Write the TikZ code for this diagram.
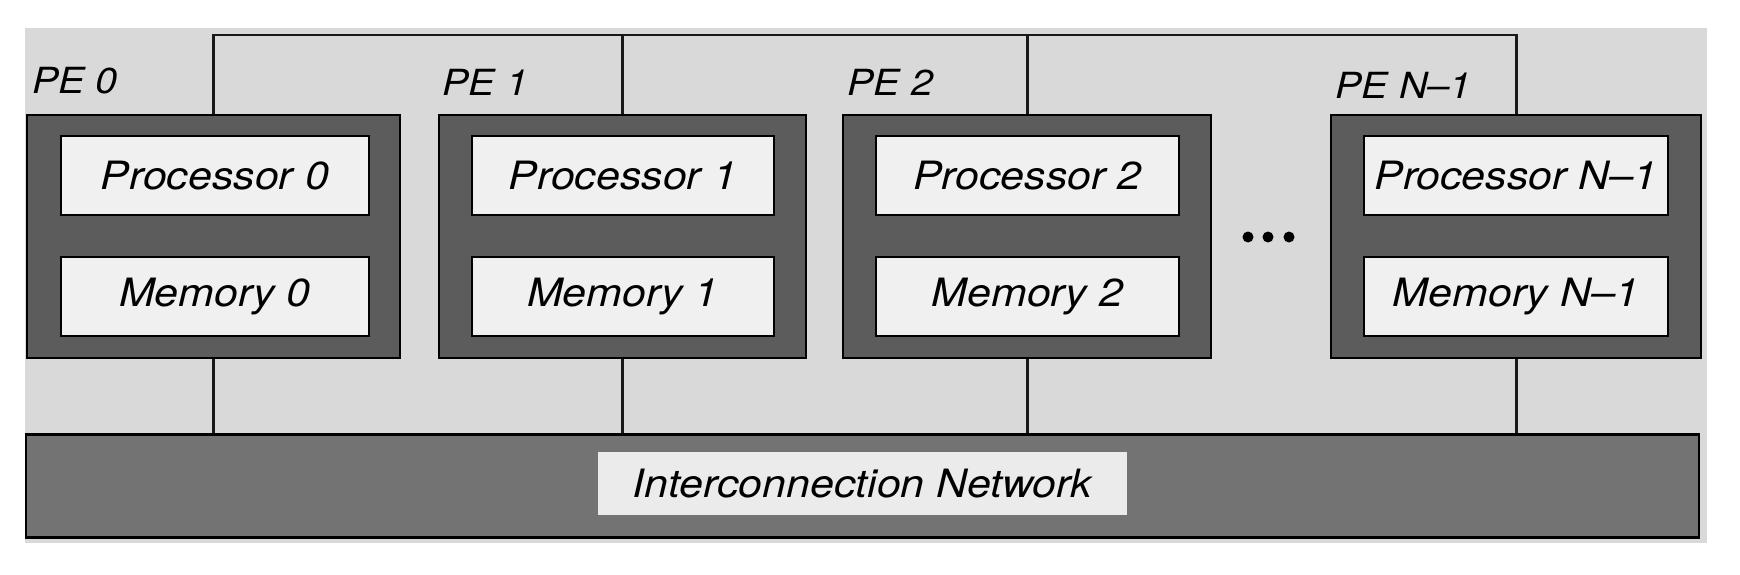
\documentclass[tikz,border=0pt]{standalone}
\usepackage{fontspec}
\setmainfont{TeX Gyre Heros}
\newfontfamily\widefont[FakeStretch=1.1,Ligatures=TeX]{TeX Gyre Heros}
\begin{document}
\begin{tikzpicture}[x=1pt,y=-1pt,
  bgfill/.style={fill=black!15},
  peframe/.style={draw=black,line width=2.4pt,fill=black!64,minimum height=243pt,inner sep=0pt},
  unitbox/.style={draw=black,line width=1.8pt,fill=black!6,minimum height=79pt,inner sep=0pt,
     font=\widefont\fontsize{39}{42}\selectfont\itshape},
  pelabel/.style={anchor=base west,inner sep=0pt,font=\widefont\fontsize{36}{40}\selectfont\itshape},
  conn/.style={line width=2.6pt,draw=black!90},
  netbar/.style={draw=black,line width=2.4pt,fill=black!55,inner sep=0pt},
  netlabel/.style={fill=black!8,inner sep=0pt,font=\widefont\fontsize{39}{44}\selectfont\itshape},
  dotmark/.style={circle,fill=black,inner sep=0pt,minimum size=11pt}]
\useasboundingbox (0,0) rectangle (1740,575);
\fill[white] (0,0) rectangle (1740,575);
\fill[bgfill] (25,28) rectangle (1707,543);
% PE frames
\node[peframe,minimum width=373pt,anchor=north west] (pe0) at (26,114) {};
\node[peframe,minimum width=367pt,anchor=north west] (pe1) at (438,114) {};
\node[peframe,minimum width=368pt,anchor=north west] (pe2) at (842,114) {};
\node[peframe,minimum width=370pt,anchor=north west] (pen) at (1330,114) {};
% inner units
\node[unitbox,minimum width=308pt,anchor=north west] (p0) at (60,135) {Processor 0};
\node[unitbox,minimum width=308pt,anchor=north west] (m0) at (60,256) {Memory 0};
\node[unitbox,minimum width=302pt,anchor=north west] (p1) at (471,135) {Processor 1};
\node[unitbox,minimum width=302pt,anchor=north west] (m1) at (471,256) {Memory 1};
\node[unitbox,minimum width=303pt,anchor=north west] (p2) at (875,135) {Processor 2};
\node[unitbox,minimum width=303pt,anchor=north west] (m2) at (875,256) {Memory 2};
\node[unitbox,minimum width=304pt,anchor=north west] (pn) at (1363,135) {Processor N–1};
\node[unitbox,minimum width=304pt,anchor=north west] (mn) at (1363,256) {Memory N–1};
% PE labels
\node[pelabel] (l0) at (32,94) {PE 0};
\node[pelabel] (l1) at (442,96) {PE 1};
\node[pelabel] (l2) at (847,96) {PE 2};
\node[pelabel] (ln) at (1335,99) {PE N–1};
% dots
\node[dotmark] (d1) at (1248,237) {};
\node[dotmark] (d2) at (1268,237) {};
\node[dotmark] (d3) at (1289,237) {};
% network
\node[netbar,minimum width=1673pt,minimum height=103pt] (net) at (862.5,486) {};
\node[netlabel,minimum width=529pt,minimum height=63pt] (netl) at (862.5,483.5) {Interconnection Network};
% bus
\coordinate (busy) at (0,35);
\draw[conn] (pe0.north) -- (pe0.north |- busy) -- (pen.north |- busy) -- (pen.north);
\draw[conn] (pe1.north) -- (pe1.north |- busy);
\draw[conn] (pe2.north) -- (pe2.north |- busy);
\foreach \p in {pe0,pe1,pe2,pen}
  \draw[conn] (\p.south) -- (\p.south |- net.north);
\end{tikzpicture}
\end{document}
